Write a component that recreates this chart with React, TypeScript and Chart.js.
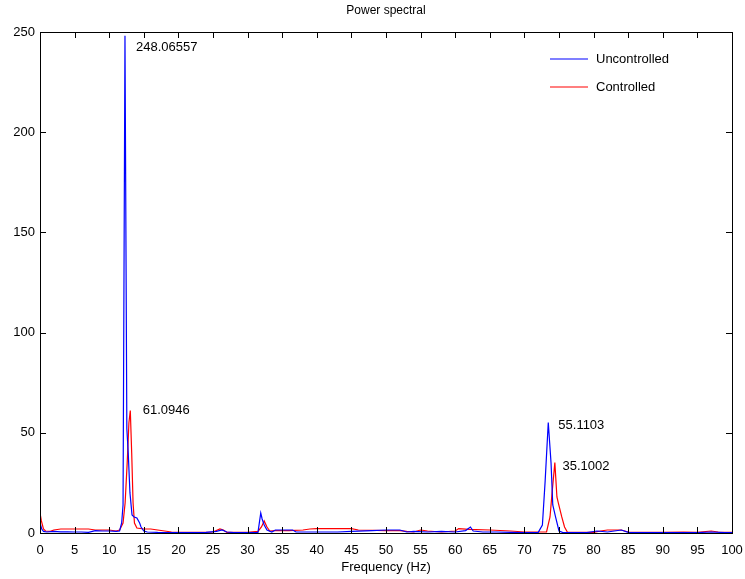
import React, { useEffect, useRef } from "react";
import { Chart, registerables } from "chart.js";
Chart.register(...registerables);

const xTicks = [0, 5, 10, 15, 20, 25, 30, 35, 40, 45, 50, 55, 60, 65, 70, 75, 80, 85, 90, 95, 100];
const yTicks = [0, 50, 100, 150, 200, 250];

// [frequency (Hz), power]
const uncontrolled: [number, number][] = [
  [0, 5], [0.25, 2], [0.5, 0.8], [1, 0.5], [2, 0.8], [3, 0.6], [4, 0.6], [5, 0.5], [6, 0.5], [7, 0.3],
  [8, 1.2], [9, 1], [10, 1], [11, 0.8], [11.5, 1], [11.8, 5], [12.0, 14], [12.28, 248.06557], [12.55, 52],
  [12.75, 40], [13.0, 20], [13.3, 9], [13.6, 8], [14.0, 7.5], [14.4, 5], [14.6, 3], [15.0, 1], [15.5, 0.5],
  [17, 0.3], [19, 0.2], [21, 0.2], [24, 0.3], [25.5, 0.8], [26.3, 1.5], [27, 0.5], [28, 0.2], [30, 0.2],
  [31.5, 0.3], [31.9, 10], [32.1, 7], [32.4, 4], [32.8, 1.5], [33.5, 0.5], [34, 1.5], [36.5, 1.5], [37, 0.5],
  [40, 0.5], [43, 0.5], [45, 0.8], [48, 1.2], [50, 1.5], [52, 1.5], [53, 0.5], [54, 0.8], [56, 0.5],
  [58, 0.8], [60, 0.5], [61.5, 1.2], [62.2, 3], [62.6, 1], [64, 0.5], [66, 0.5], [68, 0.3], [70, 0.2],
  [72, 0.3], [72.6, 4], [73.0, 26], [73.45, 55.1103], [73.65, 45], [73.85, 35], [74.1, 14], [74.5, 8],
  [75.0, 1], [75.5, 0.3], [77, 0.2], [79, 0.2], [80.5, 1], [82, 0.5], [84, 1.5], [85, 0.3], [87, 0.2],
  [90, 0.2], [93, 0.2], [95, 0.2], [97, 0.5], [99, 0.2], [100, 0.2],
];

const controlled: [number, number][] = [
  [0, 10], [0.2, 6], [0.5, 2], [0.8, 1], [1.5, 0.8], [2, 1.5], [3, 2], [5, 2], [7, 2], [8, 1.5],
  [9, 1.5], [10, 1.5], [11, 1], [11.5, 1.5], [12.0, 5], [12.3, 15], [12.6, 35], [12.85, 55],
  [13.05, 61.0946], [13.25, 40], [13.45, 15], [13.65, 5], [14.0, 2.5], [15, 2], [16, 2], [17, 1.5],
  [18, 1], [19, 0.5], [20, 0.3], [23, 0.3], [25, 0.5], [26, 2], [26.5, 1.5], [27, 0.3], [30, 0.3],
  [31.5, 0.8], [32.0, 3], [32.4, 6], [32.8, 3], [33.2, 1], [34, 1.2], [36, 1.2], [38, 1.5], [39, 2],
  [40, 2.2], [45, 2.2], [46, 1.5], [50, 1.2], [52, 1.2], [53, 0.8], [54, 0.5], [55, 1.5], [56, 1], [58, 0.5],
  [60, 1], [60.5, 2.2], [62, 1.8], [65, 1.5], [68, 1], [70, 0.5], [72, 0.5], [73.2, 0.5], [73.7, 8],
  [74.0, 20], [74.4, 35.1002], [74.7, 18], [74.9, 15], [75.4, 8], [75.8, 3], [76.2, 0.5], [78, 0.3],
  [80, 0.3], [81, 1], [82, 1.5], [84, 1.5], [85, 0.5], [87, 0.3], [90, 0.3], [93, 0.5], [95, 0.3],
  [97, 1], [98, 0.5], [100, 0.3],
];

const peakLabels = ["248.06557", "61.0946", "55.1103", "35.1002"];
const peakLabelX = [13.87, 14.84, 74.9, 75.5];
const peakLabelY = [242.5, 61.4, 53.9, 33.1];

const seriesNames = ["Uncontrolled", "Controlled"];
const seriesColors = ["#0000ff", "#ff0000"];

const FONT = "'Liberation Sans', Arial, Helvetica, sans-serif";

const framePlugin = {
  id: "matlabFrame",
  afterDraw(chart: any) {
    const { ctx, chartArea } = chart;
    const { left, right, top, bottom } = chartArea;
    const xs = chart.scales.x;
    const ys = chart.scales.y;
    ctx.save();
    ctx.strokeStyle = "#000";
    ctx.lineWidth = 1;
    ctx.beginPath();
    const tl = 6;
    xTicks.forEach((v) => {
      const px = Math.round(xs.getPixelForValue(v)) + 0.5;
      ctx.moveTo(px, bottom);
      ctx.lineTo(px, bottom - tl);
      ctx.moveTo(px, top);
      ctx.lineTo(px, top + tl);
    });
    yTicks.forEach((v) => {
      const py = Math.round(ys.getPixelForValue(v)) + 0.5;
      ctx.moveTo(left, py);
      ctx.lineTo(left + tl, py);
      ctx.moveTo(right, py);
      ctx.lineTo(right - tl, py);
    });
    ctx.stroke();
    ctx.strokeRect(Math.round(left) + 0.5, Math.round(top) + 0.5, Math.round(right - left), Math.round(bottom - top));

    // title
    ctx.fillStyle = "#000";
    ctx.font = `12px ${FONT}`;
    ctx.textAlign = "center";
    ctx.textBaseline = "middle";
    ctx.fillText("Power spectral", (left + right) / 2, top - 21);

    // peak labels
    ctx.font = `13px ${FONT}`;
    ctx.textAlign = "left";
    peakLabels.forEach((t, i) => {
      ctx.fillText(t, xs.getPixelForValue(peakLabelX[i]), ys.getPixelForValue(peakLabelY[i]));
    });

    // legend
    const lx0 = right - 182;
    const lx1 = right - 144;
    const ly = [top + 27, top + 55];
    seriesNames.forEach((n, i) => {
      ctx.strokeStyle = seriesColors[i];
      ctx.lineWidth = 1.2;
      ctx.beginPath();
      ctx.moveTo(lx0, ly[i]);
      ctx.lineTo(lx1, ly[i]);
      ctx.stroke();
      ctx.fillStyle = "#000";
      ctx.fillText(n, right - 136, ly[i]);
    });
    ctx.restore();
  },
};

export default function App() {
  const ref = useRef<HTMLCanvasElement>(null);
  useEffect(() => {
    document.body.style.margin = "0";
    const canvas = ref.current!;
    const chart = new Chart(canvas, {
      type: "line",
      data: {
        datasets: [
          {
            label: seriesNames[0],
            data: uncontrolled.map(([x, y]) => ({ x, y })),
            borderColor: seriesColors[0],
            borderWidth: 1.2,
            pointRadius: 0,
            tension: 0,
            fill: false,
          },
          {
            label: seriesNames[1],
            data: controlled.map(([x, y]) => ({ x, y })),
            borderColor: seriesColors[1],
            borderWidth: 1.2,
            pointRadius: 0,
            tension: 0,
            fill: false,
          },
        ],
      },
      options: {
        responsive: false,
        animation: false,
        layout: { padding: { top: 32, right: 13, left: 0, bottom: 0 } },
        plugins: {
          legend: { display: false },
          title: { display: false },
          tooltip: { enabled: false },
        },
        scales: {
          x: {
            type: "linear",
            min: 0,
            max: 100,
            afterBuildTicks: (s: any) => {
              s.ticks = xTicks.map((v) => ({ value: v }));
            },
            afterFit: (s: any) => {
              s.height = 46;
              s.paddingLeft = 0;
              s.paddingRight = 0;
            },
            ticks: {
              color: "#000",
              font: { family: FONT, size: 13 },
              padding: 10,
              maxRotation: 0,
              autoSkip: false,
            },
            grid: { display: false, drawTicks: false },
            border: { display: false },
            title: {
              display: true,
              text: "Frequency (Hz)",
              color: "#000",
              font: { family: FONT, size: 13 },
              padding: { top: 0, bottom: 4 },
            },
          },
          y: {
            type: "linear",
            min: 0,
            max: 250,
            afterBuildTicks: (s: any) => {
              s.ticks = yTicks.map((v) => ({ value: v }));
            },
            afterFit: (s: any) => {
              s.width = 40;
              s.paddingTop = 0;
              s.paddingBottom = 0;
            },
            ticks: {
              color: "#000",
              font: { family: FONT, size: 13 },
              padding: 5,
            },
            grid: { display: false, drawTicks: false },
            border: { display: false },
          },
        },
      },
      plugins: [framePlugin],
    });
    return () => chart.destroy();
  }, []);
  return <canvas ref={ref} width={745} height={579} style={{ display: "block" }} />;
}
